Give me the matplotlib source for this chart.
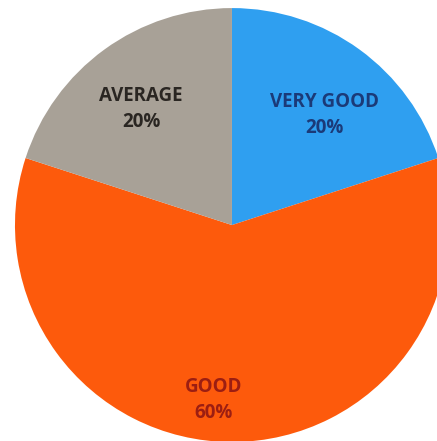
import matplotlib
matplotlib.use("Agg")
import matplotlib.pyplot as plt
import numpy as np

# data
categories = ["VERY GOOD", "GOOD", "AVERAGE"]
percentages = [20, 60, 20]
colors = ["#2f9ff0", "#fd5a0c", "#a8a197"]
text_colors = ["#1b3a78", "#9c1e12", "#2a2622"]
label_radius = [0.66, 0.81, 0.68]
label_shift = [-4, -6, 2]  # degrees, nudges labels like the reference

fig = plt.figure(figsize=(4.37, 4.41), dpi=100)
ax = fig.add_axes([0, 0, 1, 1])

wedges, _ = ax.pie(percentages, colors=colors, startangle=90, counterclock=False,
                   radius=1.0, wedgeprops=dict(linewidth=0))

for w, name, pct, tc, r, sh in zip(wedges, categories, percentages, text_colors,
                                    label_radius, label_shift):
    ang = np.deg2rad((w.theta1 + w.theta2) / 2 + sh)
    ax.text(r * np.cos(ang), r * np.sin(ang), f"{name}\n{pct}%", ha="center", va="center",
            fontsize=13.5, fontweight="bold", family="Open Sans", color=tc, linespacing=1.4)

# circle sits a little off-centre and is clipped at right/bottom
ax.set_xlim(-1.069, 0.945)
ax.set_ylim(-0.995, 1.037)
ax.set_aspect("equal")
ax.axis("off")

fig.savefig("out.png", dpi=100)
